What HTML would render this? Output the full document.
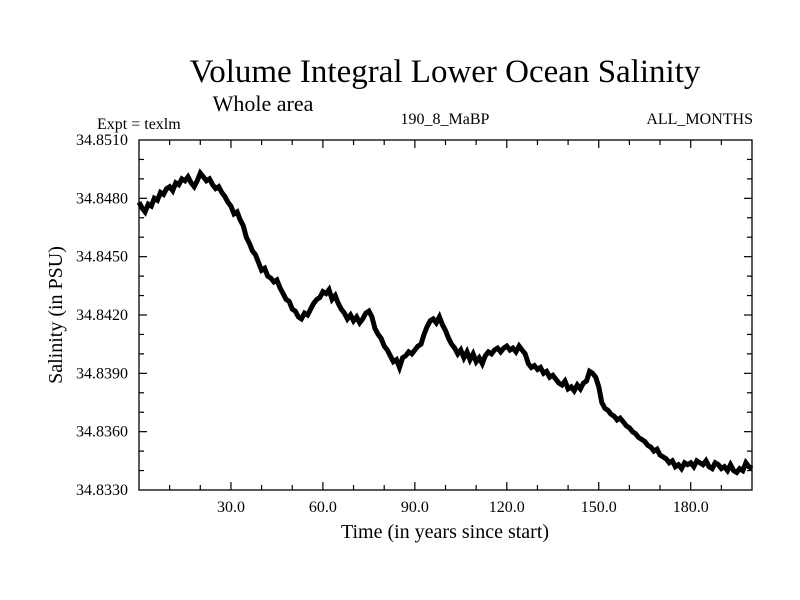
<!DOCTYPE html>
<html><head><meta charset="utf-8"><style>
body{margin:0;background:#fff}
svg{display:block;font-family:"Liberation Serif",serif}
</style></head><body>
<svg id="chart" width="800" height="600" xmlns="http://www.w3.org/2000/svg">
<rect width="800" height="600" fill="#fff"/>
<text x="445" y="82" font-size="33" text-anchor="middle">Volume Integral Lower Ocean Salinity</text>
<text x="263" y="111" font-size="22" text-anchor="middle">Whole area</text>
<text x="97" y="129" font-size="16">Expt = texlm</text>
<text x="445" y="124" font-size="16" text-anchor="middle">190_8_MaBP</text>
<text x="753" y="124" font-size="16" text-anchor="end">ALL_MONTHS</text>
<text x="445" y="538" font-size="20" text-anchor="middle">Time (in years since start)</text>
<text transform="translate(62,315) rotate(-90)" font-size="20" text-anchor="middle">Salinity (in PSU)</text>
<g id="axes"></g>
<polyline id="series" fill="none" stroke="#000" stroke-width="5" stroke-linejoin="miter"/>
<rect x="139" y="140" width="613" height="350" fill="none" stroke="#000" stroke-width="1.3"/>
</svg>
<script>
const years0 = 0, yearStep = 1;
const salinity = [
34.8478,34.8475,34.8473,34.8477,34.8476,34.8480,34.8479,34.8483,34.8482,34.8485,
34.8486,34.8484,34.8488,34.8487,34.8490,34.8489,34.8491,34.8488,34.8486,34.8489,
34.8493,34.8491,34.8489,34.8490,34.8487,34.8485,34.8486,34.8483,34.8481,34.8478,
34.8476,34.8472,34.8473,34.8469,34.8466,34.8460,34.8457,34.8453,34.8451,34.8447,
34.8443,34.8444,34.8440,34.8439,34.8437,34.8438,34.8434,34.8431,34.8428,34.8427,
34.8423,34.8422,34.8419,34.8418,34.8421,34.8420,34.8423,34.8426,34.8428,34.8429,
34.8432,34.8431,34.8433,34.8428,34.8430,34.8426,34.8423,34.8421,34.8418,34.8420,
34.8417,34.8419,34.8416,34.8418,34.8421,34.8422,34.8419,34.8413,34.8410,34.8408,
34.8404,34.8402,34.8399,34.8396,34.8397,34.8393,34.8398,34.8399,34.8401,34.8400,
34.8402,34.8404,34.8405,34.8410,34.8414,34.8417,34.8418,34.8416,34.8419,34.8415,
34.8412,34.8408,34.8405,34.8403,34.8400,34.8402,34.8398,34.8401,34.8397,34.8400,
34.8396,34.8398,34.8395,34.8399,34.8401,34.8400,34.8402,34.8403,34.8401,34.8403,
34.8404,34.8402,34.8403,34.8401,34.8404,34.8402,34.8400,34.8395,34.8393,34.8394,
34.8392,34.8393,34.8390,34.8391,34.8388,34.8389,34.8387,34.8385,34.8384,34.8386,
34.8382,34.8383,34.8381,34.8384,34.8382,34.8385,34.8386,34.8391,34.8390,34.8388,
34.8383,34.8375,34.8372,34.8371,34.8369,34.8368,34.8366,34.8367,34.8365,34.8363,
34.8362,34.8360,34.8359,34.8357,34.8356,34.8355,34.8353,34.8352,34.8350,34.8351,
34.8348,34.8347,34.8346,34.8344,34.8345,34.8342,34.8343,34.8341,34.8344,34.8343,
34.8344,34.8342,34.8345,34.8344,34.8343,34.8345,34.8342,34.8341,34.8344,34.8343,
34.8341,34.8342,34.8340,34.8343,34.8340,34.8339,34.8341,34.8340,34.8344,34.8342,
34.8341];
const xTickValues = [30,60,90,120,150,180];
const xTickLabels = ["30.0","60.0","90.0","120.0","150.0","180.0"];
const yTickValues = [34.833,34.836,34.839,34.842,34.845,34.848,34.851];
const yTickLabels = ["34.8330","34.8360","34.8390","34.8420","34.8450","34.8480","34.8510"];
const X0=139,X1=752,Y0=490,Y1=140;
const xs=v=>X0+(v-0)/(200-0)*(X1-X0);
const ys=v=>Y0-(v-34.833)/(34.851-34.833)*(Y0-Y1);
const NS="http://www.w3.org/2000/svg";
const ax=document.getElementById('axes');
function line(x1,y1,x2,y2){const l=document.createElementNS(NS,'line');
l.setAttribute('x1',x1);l.setAttribute('y1',y1);l.setAttribute('x2',x2);l.setAttribute('y2',y2);
l.setAttribute('stroke','#000');l.setAttribute('stroke-width','1.2');


ax.appendChild(l);}
function txt(x,y,s,anchor,name){const t=document.createElementNS(NS,'text');
t.setAttribute('x',x);t.setAttribute('y',y);t.setAttribute('font-size','16');t.setAttribute('text-anchor',anchor);
t.textContent=s;


ax.appendChild(t);}
for(let v=10;v<200;v+=10){const x=xs(v);const major=v%30===0;const L=major?8:5;
line(x,Y0,x,Y0-L);line(x,Y1,x,Y1+L);}
xTickValues.forEach((v,i)=>txt(xs(v),512,xTickLabels[i],'middle','x-tick-label'));
for(let k=1;k<18;k++){const v=34.833+k*0.001;const y=ys(v);const major=k%3===0;const L=major?8:5;
line(X0,y,X0+L,y);line(X1,y,X1-L,y);}
yTickValues.forEach((v,i)=>txt(128,ys(v)+5,yTickLabels[i],'end','y-tick-label'));
document.getElementById('series').setAttribute('points',
salinity.map((v,i)=>xs(years0+i*yearStep).toFixed(1)+','+ys(v).toFixed(1)).join(' '));
</script>
</body></html>
